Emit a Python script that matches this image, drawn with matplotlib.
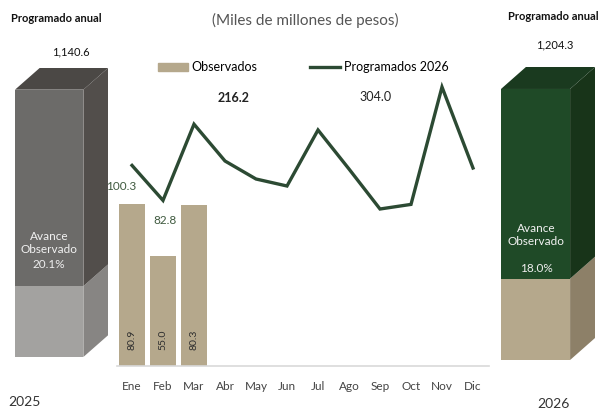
import matplotlib
matplotlib.use("Agg")
import matplotlib.pyplot as plt
from matplotlib.patches import Polygon, Patch
from matplotlib.lines import Line2D

plt.rcParams['font.family'] = ['Lato', 'DejaVu Sans']

# ---------------- data ----------------
months = ["Ene", "Feb", "Mar", "Abr", "May", "Jun", "Jul", "Ago", "Sep", "Oct", "Nov", "Dic"]
observados = [80.9, 55.0, 80.3]
programados_2026 = [100.3, 82.8, 120.9, 102.5, 93.5, 90.0, 118.0, 98.5, 78.5, 80.8, 139.5, 99.0]
years = ["2025", "2026"]
programado_anual = [1140.6, 1204.3]
avance_pct = [20.1, 18.0]
fill_share = [0.265, 0.30]

W, H = 606, 411
fig = plt.figure(figsize=(W / 100, H / 100), dpi=100)


def fx(px):
    return px / W


def fy(py):
    return 1 - py / H


# ---------------- main axes ----------------
ax = fig.add_axes([fx(116.5), fy(366), fx(488.5) - fx(116.5), fy(66) - fy(366)])
x = list(range(len(months)))
ax.bar(x[:len(observados)], observados, width=0.84, color="#b5a88c", zorder=2)
ax.plot(x, programados_2026, color="#2c4a33", lw=2.4, zorder=3, solid_joinstyle="miter")
ax.set_xlim(-0.5, 11.5)
ax.set_ylim(0, 150)
for s in ["top", "right", "left"]:
    ax.spines[s].set_visible(False)
ax.spines["bottom"].set_color("#d9d9d9")
ax.spines["bottom"].set_linewidth(1.2)
ax.set_yticks([])
ax.set_xticks(x)
ax.set_xticklabels(months, fontsize=8.5, color="#444444")
ax.tick_params(axis="x", length=0, pad=11)

# values inside bars
for i, v in enumerate(observados):
    ax.text(i, 13, f"{v:.1f}", rotation=90, ha="center", va="center", fontsize=7.5,
            color="#2f2f2f")

# labels of first programmed values
ax.annotate(f"{programados_2026[0]:.1f}", (0, programados_2026[0]), xytext=(-11, -21),
            textcoords="offset pixels", ha="center", va="center", fontsize=8.5, color="#3f5a3f")
ax.annotate(f"{programados_2026[1]:.1f}", (1, programados_2026[1]), xytext=(2, -20),
            textcoords="offset pixels", ha="center", va="center", fontsize=8.5, color="#3f5a3f")

# totals
ax.text(3.29, 134, f"{sum(observados):.1f}", ha="center", va="center", fontsize=9,
        color="#222222", fontweight="bold")
ax.text(7.84, 134.5, f"{sum(programados_2026[:3]):.1f}", ha="center", va="center", fontsize=9,
        color="#222222")

# legend
handles = [Patch(color="#b5a88c"), Line2D([0], [0], color="#2c4a33", lw=2.4)]
fig.legend(handles, ["Observados", "Programados 2026"], loc="center",
           bbox_to_anchor=(fx(303), fy(67)), ncol=2, frameon=False, fontsize=9,
           handlelength=2.4, handleheight=0.6, columnspacing=4.2, handletextpad=0.3)

fig.text(fx(305), fy(20), "(Miles de millones de pesos)", ha="center", va="center",
         fontsize=11, color="#555555")


# ---------------- 3D boxes ----------------
def draw_box(rect_px, total, share, c_top, c_front, c_side, c_front_lo, c_side_lo):
    x0, y0, x1, y1 = rect_px  # left, top, right, bottom in pixels of the whole box
    bx = fig.add_axes([fx(x0), fy(y1), fx(x1) - fx(x0), fy(y0) - fy(y1)])
    bx.set_axis_off()
    dxf, dyf = 0.265, 0.075   # depth as fraction of axes width / height
    top = total
    ymax = total / (1 - dyf)
    dy = ymax * dyf
    fw = 1 - dxf
    bx.set_xlim(0, 1)
    bx.set_ylim(0, ymax)
    split = total * share
    # front faces
    bx.add_patch(Polygon([(0, 0), (fw, 0), (fw, split), (0, split)], closed=True,
                         color=c_front_lo, lw=0))
    bx.add_patch(Polygon([(0, split), (fw, split), (fw, top), (0, top)], closed=True,
                         color=c_front, lw=0))
    # side faces
    bx.add_patch(Polygon([(fw, 0), (1, dy), (1, split + dy), (fw, split)], closed=True,
                         color=c_side_lo, lw=0))
    bx.add_patch(Polygon([(fw, split), (1, split + dy), (1, top + dy), (fw, top)], closed=True,
                         color=c_side, lw=0))
    # top face
    bx.add_patch(Polygon([(0, top), (fw, top), (1, top + dy), (dxf, top + dy)], closed=True,
                         color=c_top, lw=0))
    return bx


draw_box((15, 68, 108, 357), programado_anual[0], fill_share[0],
         "#4b4845", "#6c6b69", "#524e4b", "#a3a2a0", "#878583")
draw_box((501, 67, 595, 360), programado_anual[1], fill_share[1],
         "#1a3a1f", "#1f4a27", "#183419", "#b5a88c", "#8d8068")

# box texts
fig.text(fx(56), fy(18), "Programado anual", ha="center", va="center", fontsize=8,
         fontweight="bold", color="#111111")
fig.text(fx(71), fy(52), f"{programado_anual[0]:,.1f}", ha="center", va="center",
         fontsize=8, color="#111111")
fig.text(fx(553), fy(17), "Programado anual", ha="center", va="center", fontsize=8,
         fontweight="bold", color="#111111")
fig.text(fx(555), fy(45), f"{programado_anual[1]:,.1f}", ha="center", va="center",
         fontsize=8, color="#111111")

fig.text(fx(49), fy(243), "Avance\nObservado", ha="center", va="center", fontsize=8.5,
         color="#f2f2f2", linespacing=1.3)
fig.text(fx(49), fy(264), f"{avance_pct[0]:.1f}%", ha="center", va="center", fontsize=8.5,
         color="#eeeeee")
fig.text(fx(536), fy(235), "Avance\nObservado", ha="center", va="center", fontsize=8.5,
         color="#f2f2f2", linespacing=1.3)
fig.text(fx(536), fy(268), f"{avance_pct[1]:.1f}%", ha="center", va="center", fontsize=8.5,
         color="#eeeeee")

fig.text(fx(24), fy(402), years[0], ha="center", va="center", fontsize=10, color="#333333")
fig.text(fx(553), fy(404), years[1], ha="center", va="center", fontsize=10, color="#333333")

fig.savefig("out.png", dpi=100)
